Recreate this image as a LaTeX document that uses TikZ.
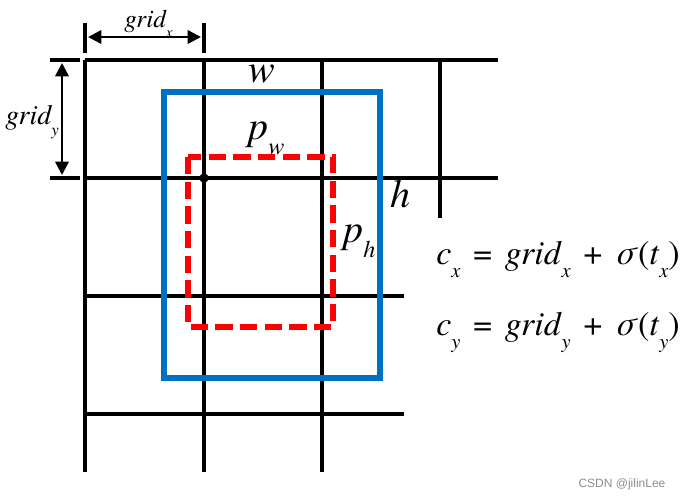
\documentclass[tikz,border=0pt]{standalone}
\usepackage{fontspec}
\setmainfont{texgyretermes}[Extension=.otf, UprightFont=*-regular, ItalicFont=*-italic]
\newfontfamily\markfont{Liberation Sans}
\usetikzlibrary{arrows.meta}
\definecolor{boxBlue}  {HTML}{0070C0}
\definecolor{priorRed} {HTML}{FF0000}
\definecolor{cMuted}   {HTML}{8C8C8C}
\newcommand{\lowsub}[1]{\raisebox{-0.36em}{\scalebox{0.6}{\itshape #1}}}
\newcommand{\opsp}[1]{\hspace{0.12em}#1\hspace{0.12em}}

\begin{document}
\begin{tikzpicture}[x=0.75pt, y=-0.75pt,
    gridline/.style={line width=2.3pt, line cap=butt},
    dimarrow/.style={{Triangle[length=10pt,width=10pt]}-{Triangle[length=10pt,width=10pt]}, line width=1.9pt},
    anchorbox/.style={draw=boxBlue, line width=4.6pt},
    priorbox/.style={draw=priorRed, line width=3.8pt, dash pattern=on 13pt off 5.5pt},
    lbl/.style={font=\itshape\fontsize{30}{30}\selectfont, inner sep=0pt, anchor=base west},
    eqn/.style={font=\fontsize{25.5}{25.5}\selectfont, inner sep=0pt, anchor=base west}]
  \useasboundingbox (0,0) rectangle (686,502);
  % grid
  \foreach \gx/\ytop/\ybot in {85/60/472, 204/60/472, 322/60/472, 440/60/218}
    \draw[gridline] (\gx,\ytop) -- (\gx,\ybot);
  \foreach \gy/\xl/\xr in {60/85/498, 178/85/498, 296/85/404, 414/85/404}
    \draw[gridline] (\xl,\gy) -- (\xr,\gy);
  % dimension ticks
  \draw[gridline] (85,23) -- (85,53);
  \draw[gridline] (204,23) -- (204,53);
  \draw[gridline] (50,60) -- (80,60);
  \draw[gridline] (50,178) -- (80,178);
  \coordinate (gxL) at (88,37);
  \coordinate (gxR) at (201,37);
  \coordinate (gyT) at (62,63);
  \coordinate (gyB) at (62,175);
  \draw[dimarrow] (gxL) -- (gxR);
  \draw[dimarrow] (gyT) -- (gyB);
  \node[font=\itshape\fontsize{19}{19}\selectfont, inner sep=0pt, anchor=base west]
    (gxlbl) at (124,28) {grid\lowsub{x}};
  \node[font=\itshape\fontsize{21}{21}\selectfont, inner sep=0pt, anchor=base west]
    (gylbl) at (5,125) {grid\lowsub{y}};
  % boxes
  \draw[anchorbox] (164,92) rectangle (380,378);
  \draw[priorbox] (188,157) rectangle (333,327);
  \node[circle, fill=black, inner sep=0pt, minimum size=7pt] (ctr) at (204,178) {};
  \node[lbl] (wlbl)  at (248,83)  {w};
  \node[lbl] (pwlbl) at (248,140) {p\lowsub{w}};
  \node[lbl] (hlbl)  at (390,208) {h};
  \node[lbl] (phlbl) at (343,243) {p\lowsub{h}};
  % equations
  \node[eqn] (eqx) at (436,265)
    {\textit{c}\lowsub{x} \opsp{=} \textit{grid}\lowsub{x} \opsp{+} \textit{σ}(\textit{t}\lowsub{x})};
  \node[eqn] (eqy) at (436,336)
    {\textit{c}\lowsub{y} \opsp{=} \textit{grid}\lowsub{y} \opsp{+} \textit{σ}(\textit{t}\lowsub{y})};
  \node[font=\markfont\fontsize{9}{9}\selectfont, text=cMuted, inner sep=0pt]
    (mark) at (622,484) {CSDN @jilinLee};
\end{tikzpicture}
\end{document}
